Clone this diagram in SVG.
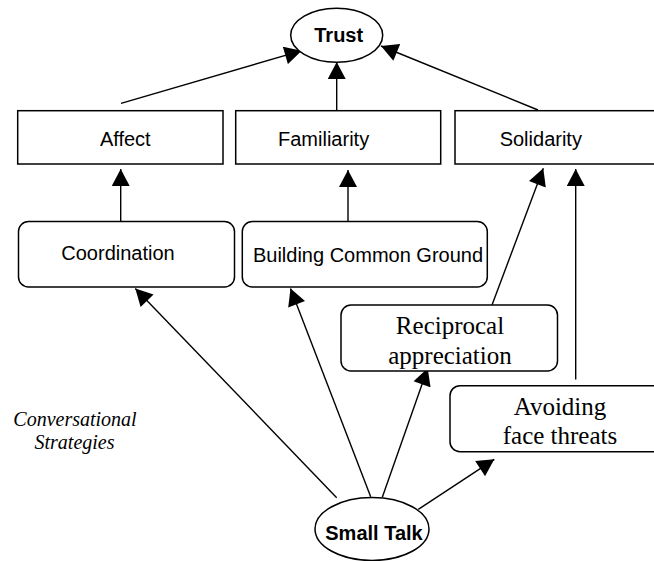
<svg xmlns="http://www.w3.org/2000/svg" width="654" height="561" viewBox="0 0 654 561">
<style>
.box{fill:#fff;stroke:#000;stroke-width:1.5}
.ell{fill:#fff;stroke:#000;stroke-width:1.5}
.sans{font-family:"Liberation Sans",Arial,sans-serif;font-size:20px;fill:#000}
.bold{font-weight:bold}
.serif{font-family:"Liberation Serif","Times New Roman",serif;font-size:25px;fill:#000}
.ital{font-family:"Liberation Serif","Times New Roman",serif;font-size:20px;font-style:italic;fill:#000}
.edge{stroke:#000;stroke-width:1.4;fill:none;marker-end:url(#ah)}
</style>
<defs>
<marker id="ah" markerUnits="userSpaceOnUse" markerWidth="18" markerHeight="18" refX="17" refY="9" orient="auto" viewBox="0 0 17 18">
<path d="M0,0 L17,9 L0,18 z" fill="#000"/>
</marker>
</defs>
<rect width="654" height="561" fill="#fff"/>
<g id="connectors">
<line class="edge" x1="121" y1="103.3" x2="301.7" y2="50.7"/>
<line class="edge" x1="336.7" y1="110.7" x2="336.7" y2="62"/>
<line class="edge" x1="538" y1="110" x2="381" y2="46"/>
<line class="edge" x1="120.7" y1="221" x2="120.7" y2="169"/>
<line class="edge" x1="348" y1="221" x2="348" y2="170"/>
<line class="edge" x1="492" y1="305" x2="543.3" y2="168.3"/>
<line class="edge" x1="575.7" y1="379.5" x2="575.7" y2="169"/>
<line class="edge" x1="336.7" y1="497.7" x2="135.3" y2="288.4"/>
<line class="edge" x1="370.7" y1="496.7" x2="290.5" y2="288.4"/>
<line class="edge" x1="382.3" y1="497.3" x2="427.7" y2="368.3"/>
<line class="edge" x1="418.3" y1="509.3" x2="494.3" y2="459.3"/>
</g>
<g id="trust">
<ellipse class="ell" cx="336.7" cy="35.3" rx="46" ry="27"/>
<text class="sans bold" x="338.7" y="42" text-anchor="middle">Trust</text>
</g>
<g id="affect">
<rect class="box" x="17.7" y="110.7" width="205.3" height="53.3"/>
<text class="sans" x="125.3" y="146" text-anchor="middle">Affect</text>
</g>
<g id="familiarity">
<rect class="box" x="235.7" y="110.7" width="205" height="53.3"/>
<text class="sans" x="323.6" y="146" text-anchor="middle">Familiarity</text>
</g>
<g id="solidarity">
<rect class="box" x="455" y="110.7" width="220" height="53.3"/>
<text class="sans" x="540.8" y="145.5" text-anchor="middle">Solidarity</text>
</g>
<g id="coordination">
<rect class="box" x="18.5" y="221.5" width="216" height="65.5" rx="10" ry="10"/>
<text class="sans" x="118" y="260" text-anchor="middle">Coordination</text>
</g>
<g id="building-common-ground">
<rect class="box" x="242.3" y="221.5" width="245" height="65.5" rx="10" ry="10"/>
<text class="sans" x="368" y="261.5" text-anchor="middle">Building Common Ground</text>
</g>
<g id="reciprocal-appreciation">
<rect class="box" x="341" y="305" width="216.5" height="66" rx="10" ry="10"/>
<text class="serif" x="450" y="334.3" text-anchor="middle">Reciprocal</text>
<text class="serif" x="450" y="364" text-anchor="middle">appreciation</text>
</g>
<g id="avoiding-face-threats">
<rect class="box" x="450" y="385.7" width="230" height="66" rx="10" ry="10"/>
<text class="serif" x="560" y="415" text-anchor="middle">Avoiding</text>
<text class="serif" x="560" y="444" text-anchor="middle">face threats</text>
</g>
<g id="small-talk">
<ellipse class="ell" cx="372" cy="529" rx="57" ry="31.5"/>
<text class="sans bold" x="374" y="540" text-anchor="middle" font-size="20">Small Talk</text>
</g>
<g id="conversational-strategies-label">
<text class="ital" x="75" y="426" text-anchor="middle">Conversational</text>
<text class="ital" x="74.5" y="449" text-anchor="middle">Strategies</text>
</g>
</svg>
